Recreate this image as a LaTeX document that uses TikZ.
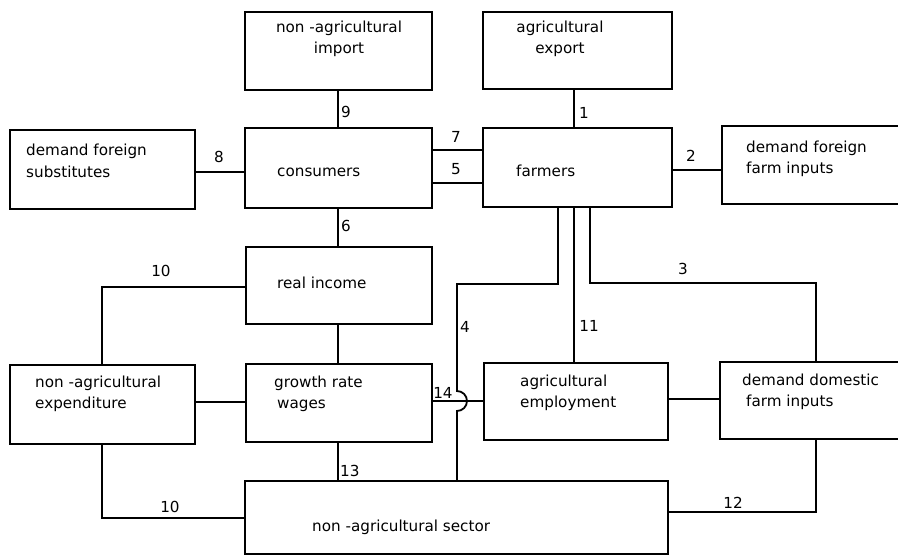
\documentclass[tikz,border=0pt]{standalone}
\usepackage{fontspec}
\setmainfont{DejaVu Sans}
\begin{document}
\begin{tikzpicture}[x=1pt,y=-1pt,
  boxst/.style={draw, line width=1.8pt, inner sep=0pt, outer sep=0pt},
  txt/.style={inner sep=0pt, anchor=west, align=left, font=\fontsize{15.2}{21.5}\selectfont},
  ctxt/.style={inner sep=0pt, align=center, font=\fontsize{15.2}{21.5}\selectfont},
  num/.style={inner sep=0pt, font=\fontsize{15.2}{18}\selectfont},
  conn/.style={draw, line width=1.8pt, line cap=rect}]
\useasboundingbox (0,0) rectangle (898,557);
\begin{scope}
\clip (0,0) rectangle (898,557);
\newcommand\mkbox[5]{\node[boxst, minimum width={#4-#2}, minimum height={#5-#3}] (#1) at ({(#2+#4)/2},{(#3+#5)/2}) {};}
\mkbox{imp}{245}{12}{432}{90}
\mkbox{exp}{483}{12}{672}{89}
\mkbox{subs}{10}{130}{195}{209}
\mkbox{cons}{245}{128}{432}{208}
\mkbox{farm}{483}{128}{672}{207}
\mkbox{ffi}{722}{126}{930}{204}
\mkbox{inc}{246}{247}{432}{324}
\mkbox{nexp}{10}{365}{195}{444}
\mkbox{wage}{246}{364}{432}{442}
\mkbox{emp}{484}{363}{668}{440}
\mkbox{dfi}{720}{362}{930}{439}
\mkbox{sec}{245}{481}{668}{554}

% texts
\node[ctxt] (timp) at (339,39) {non -agricultural\\ import};
\node[ctxt] (texp) at (560,39) {agricultural\\ export};
\node[txt] (tsubs) at (26,161) {demand foreign\\substitutes};
\node[txt] (tcons) at (277,172) {consumers};
\node[txt] (tfarm) at (516,171) {farmers};
\node[txt] (tffi) at (746,159) {demand foreign\\farm inputs};
\node[txt] (tinc) at (277,283) {real income};
\node[txt] (tnexp) at (35,394) {non -agricultural\\expenditure};
\node[txt] (twage) at (274,394) {growth rate\\\hspace{3pt}wages};
\node[txt] (temp) at (520,393) {agricultural\\employment};
\node[txt] (tdfi) at (742,392) {demand domestic\\\hspace{4pt}farm inputs};
\node[txt] (tsec) at (312,527) {non -agricultural sector};

% helper coordinates
\coordinate (x337) at (338,0);
\coordinate (x574) at (574,0);
\coordinate (x102) at (102,0);
\coordinate (x457) at (457,0);
\coordinate (x558) at (558,0);
\coordinate (x590) at (590,0);
\coordinate (x816) at (816,0);
\coordinate (y172) at (0,172);
\coordinate (y150) at (0,150);
\coordinate (y183) at (0,183);
\coordinate (y170) at (0,170);
\coordinate (y287) at (0,287);
\coordinate (y402) at (0,402);
\coordinate (y401) at (0,401);
\coordinate (y399) at (0,399);
\coordinate (y518) at (0,518);
\coordinate (y512) at (0,512);
\coordinate (c4a) at (558,284);
\coordinate (c4b) at (457,284);
\coordinate (c3a) at (590,283);
\coordinate (c3b) at (816,283);
\coordinate (c10a) at (102,287);
\coordinate (c10b) at (102,518);
\coordinate (c12) at (816,512);
\coordinate (hop) at (457,401);

% connectors
\draw[conn] (imp.south -| x337) -- (cons.north -| x337);
\draw[conn] (exp.south -| x574) -- (farm.north -| x574);
\draw[conn] (subs.east |- y172) -- (cons.west |- y172);
\draw[conn] (cons.east |- y150) -- (farm.west |- y150);
\draw[conn] (cons.east |- y183) -- (farm.west |- y183);
\draw[conn] (farm.east |- y170) -- (ffi.west |- y170);
\draw[conn] (cons.south -| x337) -- (inc.north -| x337);
\draw[conn] (inc.south -| x337) -- (wage.north -| x337);
\draw[conn] (wage.south -| x337) -- (sec.north -| x337);
\draw[conn] (inc.west |- y287) -- (c10a) -- (nexp.north -| x102);
\draw[conn] (nexp.east |- y402) -- (wage.west |- y402);
\draw[conn] (nexp.south -| x102) -- (c10b) -- (sec.west |- y518);
\draw[conn] (wage.east |- y401) -- (emp.west |- y401);
\draw[conn] (farm.south -| x558) -- (c4a) -- (c4b) -- ([yshift=10pt]hop) arc[start angle=90, end angle=-90, radius=10pt] -- (sec.north -| x457);
\draw[conn] (farm.south -| x574) -- (emp.north -| x574);
\draw[conn] (farm.south -| x590) -- (c3a) -- (c3b) -- (dfi.north -| x816);
\draw[conn] (emp.east |- y399) -- (dfi.west |- y399);
\draw[conn] (dfi.south -| x816) -- (c12) -- (sec.east |- y512);

% numbers
\node[num, anchor=west] (n9) at (341,112) {9};
\node[num, anchor=west] (n1) at (579,113) {1};
\node[num] (n7) at (456,137) {7};
\node[num] (n5) at (456,169) {5};
\node[num] (n8) at (219,157) {8};
\node[num] (n2) at (691,156) {2};
\node[num, anchor=west] (n6) at (341,226) {6};
\node[num] (n10a) at (161,271) {10};
\node[num] (n10b) at (170,507) {10};
\node[num, anchor=west] (n4) at (460,327) {4};
\node[num] (n11) at (589,326) {11};
\node[num] (n3) at (683,269) {3};
\node[num] (n14) at (443,393) {14};
\node[num, anchor=west] (n13) at (340,471) {13};
\node[num] (n12) at (733,503) {12};
\end{scope}
\end{tikzpicture}
\end{document}
